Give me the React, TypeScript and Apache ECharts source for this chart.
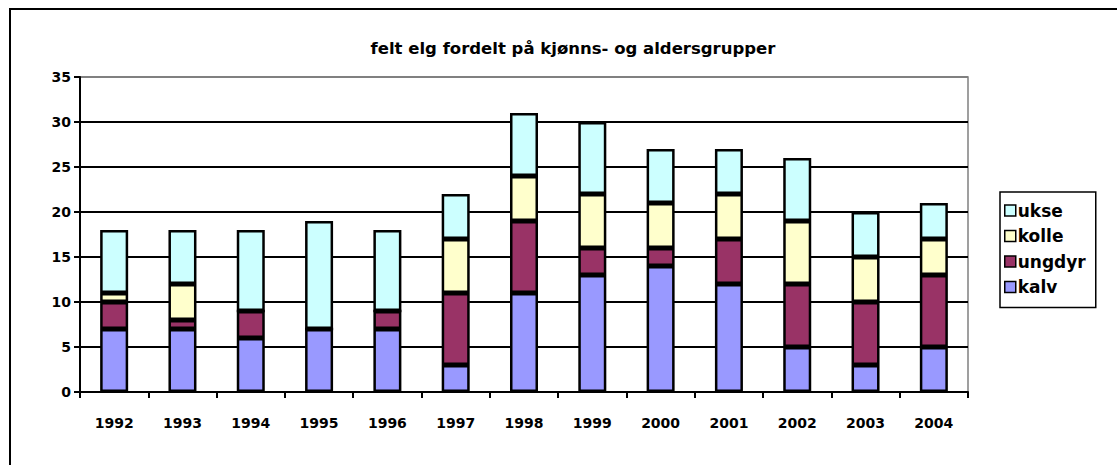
import React, { useEffect, useRef } from "react";
import * as echarts from "echarts";

const years = ["1992", "1993", "1994", "1995", "1996", "1997", "1998", "1999", "2000", "2001", "2002", "2003", "2004"];
const kalv = [7, 7, 6, 7, 7, 3, 11, 13, 14, 12, 5, 3, 5];
const ungdyr = [3, 1, 3, 0, 2, 8, 8, 3, 2, 5, 7, 7, 8];
const kolle = [1, 4, 0, 0, 0, 6, 5, 6, 5, 5, 7, 5, 4];
const ukse = [7, 6, 9, 12, 9, 5, 7, 8, 6, 5, 7, 5, 4];
const title = "felt elg fordelt på kjønns- og aldersgrupper";

const FONT = "'DejaVu Sans', 'Liberation Sans', Arial, sans-serif";

export default function App() {
  const ref = useRef<HTMLDivElement>(null);
  useEffect(() => {
    if (!ref.current) return;
    const chart = echarts.init(ref.current, undefined, { renderer: "svg" });
    const mk = (name: string, data: number[], color: string) => ({
      name,
      type: "bar",
      stack: "total",
      data,
      barWidth: "41%",
      itemStyle: { color, borderColor: "#000", borderWidth: 2.5 },
    });
    chart.setOption({
      animation: false,
      backgroundColor: "#fff",
      textStyle: { fontFamily: FONT },
      title: {
        text: title,
        left: 568,
        top: 35,
        textAlign: "center",
        textStyle: { fontFamily: FONT, fontWeight: "bold", fontSize: 16.5, color: "#000" },
      },
      graphic: [
        {
          type: "rect",
          shape: { x: 10, y: 9, width: 1130, height: 470 },
          style: { fill: "none", stroke: "#000", lineWidth: 2 },
          silent: true,
        },
      ],
      legend: {
        orient: "vertical",
        left: 1000,
        top: 192,
        width: 103,
        data: ["ukse", "kolle", "ungdyr", "kalv"],
        icon: "rect",
        itemWidth: 11,
        itemHeight: 11,
        itemGap: 8.5,
        padding: [10, 10, 12, 4],
        borderColor: "#000",
        borderWidth: 1.5,
        backgroundColor: "#fff",
        itemStyle: { borderColor: "#000", borderWidth: 1.5 },
        textStyle: { fontFamily: FONT, fontWeight: "bold", fontSize: 17, color: "#000", padding: [0, 0, 0, -3] },
      },
      grid: {
        left: 80,
        right: 149,
        top: 77,
        bottom: 73,
        show: true,
        borderColor: "#808080",
        borderWidth: 1.5,
      },
      xAxis: {
        type: "category",
        data: years,
        axisLine: { lineStyle: { color: "#000", width: 2 } },
        axisTick: { show: true, length: 6, lineStyle: { color: "#000", width: 2 } },
        axisLabel: { fontFamily: FONT, fontWeight: "bold", fontSize: 14, color: "#000", margin: 24 },
      },
      yAxis: {
        type: "value",
        min: 0,
        max: 35,
        interval: 5,
        axisLine: { show: true, lineStyle: { color: "#000", width: 2 } },
        axisTick: { show: true, length: 6, lineStyle: { color: "#000", width: 2 } },
        axisLabel: { fontFamily: FONT, fontWeight: "bold", fontSize: 14, color: "#000", margin: 9 },
        splitLine: {
          lineStyle: {
            color: ["#000", "#000", "#000", "#000", "#000", "#000", "#000", "#808080"],
            width: 2,
          },
        },
      },
      series: [
        mk("kalv", kalv, "#9999FF"),
        mk("ungdyr", ungdyr, "#993366"),
        mk("kolle", kolle, "#FFFFCC"),
        mk("ukse", ukse, "#CCFFFF"),
      ],
    });
    return () => chart.dispose();
  }, []);
  return <div ref={ref} style={{ width: 1117, height: 465, position: "absolute", left: 0, top: 0 }} />;
}
